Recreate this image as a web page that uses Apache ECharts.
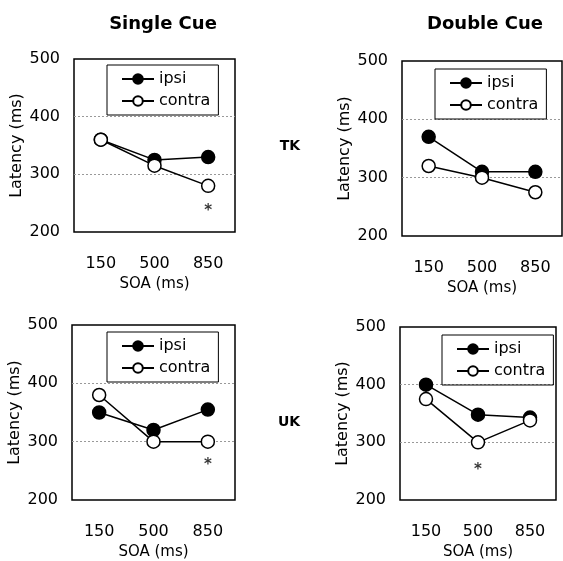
<!DOCTYPE html>
<html>
<head>
<meta charset="utf-8">
<script src="https://cdn.jsdelivr.net/npm/echarts@6/dist/echarts.min.js"></script>
<style>
  html, body { margin: 0; padding: 0; background: #fff; }
  #main { width: 563px; height: 561px; }
</style>
</head>
<body>
<div id="main"></div>
<script>
var soa = ['150', '500', '850'];
var yTicks = [200, 300, 400, 500];

var tkSingleIpsi = [360, 325, 330];
var tkSingleContra = [360, 315, 280];
var tkDoubleIpsi = [370, 310, 310];
var tkDoubleContra = [320, 300, 275];
var ukSingleIpsi = [350, 320, 355];
var ukSingleContra = [380, 300, 300];
var ukDoubleIpsi = [400, 348, 343];
var ukDoubleContra = [375, 300, 338];

// significance stars: [soa, latency]
var tkSingleStars = [['850', 243]];
var tkDoubleStars = [];
var ukSingleStars = [['850', 267]];
var ukDoubleStars = [['500', 259]];

var chartDom = document.getElementById('main');
var myChart = echarts.init(chartDom);
var font = 'DejaVu Sans';

var panels = [
  { grid: { left: 74, top: 59, width: 161, height: 173 }, legend: { left: 107, top: 65 },
    ipsi: tkSingleIpsi, contra: tkSingleContra, stars: tkSingleStars },
  { grid: { left: 402, top: 61, width: 160, height: 175 }, legend: { left: 435, top: 69 },
    ipsi: tkDoubleIpsi, contra: tkDoubleContra, stars: tkDoubleStars },
  { grid: { left: 72, top: 325, width: 163, height: 177 }, legend: { left: 107, top: 332 },
    ipsi: ukSingleIpsi, contra: ukSingleContra, stars: ukSingleStars },
  { grid: { left: 400, top: 327, width: 156, height: 177 }, legend: { left: 442, top: 335 },
    ipsi: ukDoubleIpsi, contra: ukDoubleContra, stars: ukDoubleStars }
];

var grids = [], xAxes = [], yAxes = [], legends = [], series = [];

panels.forEach(function (p, i) {
  grids.push(Object.assign({ show: true, borderColor: '#000', borderWidth: 1.5, backgroundColor: '#fff' }, p.grid));
  xAxes.push({
    type: 'category', gridIndex: i, data: soa, boundaryGap: true,
    axisLine: { show: false }, axisTick: { show: false },
    axisLabel: { margin: 24, fontSize: 16, color: '#000', fontFamily: font },
    name: 'SOA (ms)', nameLocation: 'middle', nameGap: 45,
    nameTextStyle: { fontSize: 15, color: '#000', fontFamily: font }
  });
  yAxes.push({
    type: 'value', gridIndex: i, min: 200, max: 500, interval: 100,
    axisLine: { show: false }, axisTick: { show: false },
    axisLabel: { margin: 14, fontSize: 16, color: '#000', fontFamily: font },
    splitLine: { show: true, showMinLine: false, showMaxLine: false,
      lineStyle: { color: '#999', type: [2, 2], width: 1 } },
    name: 'Latency (ms)', nameLocation: 'middle', nameGap: 49,
    nameTextStyle: { fontSize: 16, color: '#000', fontFamily: font }
  });
  legends.push({
    left: p.legend.left, top: p.legend.top, orient: 'vertical',
    data: ['ipsi', 'contra'], borderColor: '#000', borderWidth: 1,
    padding: [6, 8, 6, 14], itemGap: 6, itemWidth: 32, itemHeight: 12,
    selectedMode: false,
    textStyle: { fontSize: 16, color: '#000', fontFamily: font }
  });
  series.push({
    name: 'ipsi', type: 'line', xAxisIndex: i, yAxisIndex: i, data: p.ipsi,
    symbol: 'circle', symbolSize: 13,
    lineStyle: { color: '#000', width: 1.5 },
    itemStyle: { color: '#000', borderColor: '#000', borderWidth: 1.5 },
    emphasis: { disabled: true }, animation: false
  });
  series.push({
    name: 'contra', type: 'line', xAxisIndex: i, yAxisIndex: i, data: p.contra,
    symbol: 'circle', symbolSize: 13,
    lineStyle: { color: '#000', width: 1.5 },
    itemStyle: { color: '#fff', borderColor: '#000', borderWidth: 1.5 },
    emphasis: { disabled: true }, animation: false
  });
  series.push({
    name: 'sig', type: 'scatter', xAxisIndex: i, yAxisIndex: i, data: p.stars,
    symbolSize: 1, itemStyle: { color: 'rgba(0,0,0,0)' },
    label: { show: true, formatter: '*', position: 'inside', offset: [0, 4],
      fontSize: 15, fontWeight: 'bold', color: '#000', fontFamily: font,
      textBorderWidth: 0 },
    emphasis: { disabled: true }, animation: false
  });
});

var option = {
  backgroundColor: '#fff',
  title: [
    { text: 'Single Cue', left: 158, top: 10, textAlign: 'center',
      textStyle: { fontSize: 18, fontWeight: 'bold', color: '#000', fontFamily: font } },
    { text: 'Double Cue', left: 480, top: 10, textAlign: 'center',
      textStyle: { fontSize: 18, fontWeight: 'bold', color: '#000', fontFamily: font } },
    { text: 'TK', left: 285, top: 134, textAlign: 'center',
      textStyle: { fontSize: 14, fontWeight: 'bold', color: '#000', fontFamily: font } },
    { text: 'UK', left: 284, top: 410, textAlign: 'center',
      textStyle: { fontSize: 14, fontWeight: 'bold', color: '#000', fontFamily: font } }
  ],
  legend: legends,
  grid: grids,
  xAxis: xAxes,
  yAxis: yAxes,
  series: series
};

option && myChart.setOption(option);
</script>
</body>
</html>
